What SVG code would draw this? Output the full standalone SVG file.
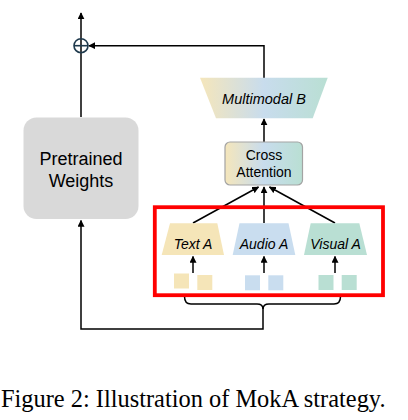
<svg xmlns="http://www.w3.org/2000/svg" width="408" height="420" viewBox="0 0 408 420">
<style>
.ln{fill:none;stroke:#000;stroke-width:1.5}
.lbl{font-family:"Liberation Sans",Arial,sans-serif;fill:#000;text-anchor:middle}
.it{font-style:italic;font-size:14px}
</style>
<defs>
<marker id="ah" viewBox="0 0 10 10" refX="9" refY="5" markerWidth="7" markerHeight="7" markerUnits="userSpaceOnUse" orient="auto">
<path d="M0,0 L10,5 L0,10 z" fill="#000"/>
</marker>
<linearGradient id="mix" x1="0" y1="0" x2="1" y2="0">
<stop offset="0" stop-color="#f5e6bb"/>
<stop offset="0.5" stop-color="#c8dced"/>
<stop offset="1" stop-color="#b9dfd3"/>
</linearGradient>
</defs>
<rect width="408" height="420" fill="#fff"/>

<g id="connectors">
<path class="ln" d="M81,117 V13" marker-end="url(#ah)"/>
<path class="ln" d="M264,78 V45.7 H89" marker-end="url(#ah)"/>
<path class="ln" d="M264,142 V119" marker-end="url(#ah)"/>
<path class="ln" d="M193,223 L258.5,187" marker-end="url(#ah)"/>
<path class="ln" d="M264,223 V187" marker-end="url(#ah)"/>
<path class="ln" d="M335,223 L269.5,187" marker-end="url(#ah)"/>
<path class="ln" d="M193,273 V256.5" marker-end="url(#ah)"/>
<path class="ln" d="M264,273 V256.5" marker-end="url(#ah)"/>
<path class="ln" d="M335,273 V256.5" marker-end="url(#ah)"/>
<path class="ln" d="M263,306 V329 H81 V220.5" marker-end="url(#ah)"/>
<path class="ln" d="M184.5,296.5 Q184.5,304 191,304 H257 Q263,304 263,309 Q263,304 269,304 H334 Q340.5,304 340.5,296.5"/>
</g>

<g id="sum">
<circle cx="81" cy="45.7" r="7" fill="none" stroke="#1f3a4d" stroke-width="1.6"/>
<path d="M74,45.7 H88" stroke="#1f3a4d" stroke-width="1.6"/>
</g>

<g id="pretrained">
<rect x="23.5" y="117.5" width="115" height="101.5" rx="13" fill="#d9d9d9"/>
<text class="lbl" x="81" y="165" font-size="18">Pretrained</text>
<text class="lbl" x="81" y="186.5" font-size="18">Weights</text>
</g>

<g id="multimodal-b">
<path d="M200,77.7 H327.7 L312.7,118.3 H216 z" fill="url(#mix)"/>
<text class="lbl" x="264" y="104" font-size="14.5" font-style="italic">Multimodal B</text>
</g>

<g id="cross-attention">
<rect x="225" y="142" width="77.5" height="43" rx="5" fill="url(#mix)" stroke="#a3a3a3" stroke-width="1.2"/>
<text class="lbl" x="264" y="159.5" font-size="14">Cross</text>
<text class="lbl" x="264" y="176.5" font-size="14">Attention</text>
</g>

<g id="text-a">
<path d="M170,223.3 H217.3 L224,255 H161.7 z" fill="#f5e5b8"/>
<text class="lbl it" x="193" y="248.5">Text A</text>
</g>
<g id="audio-a">
<path d="M239.5,223.3 H288.5 L295.3,255 H232.7 z" fill="#c9ddef"/>
<text class="lbl it" x="264" y="248.5">Audio A</text>
</g>
<g id="visual-a">
<path d="M310.7,223.3 H359.3 L367,255 H304 z" fill="#b9dfd3"/>
<text class="lbl it" x="335.5" y="248.5">Visual A</text>
</g>

<g id="tokens">
<rect x="174" y="273.5" width="15" height="15" fill="#f5e5b8"/>
<rect x="197.3" y="275" width="15" height="15" fill="#f5e5b8"/>
<rect x="245" y="275.3" width="15" height="15" fill="#c9ddef"/>
<rect x="268.3" y="275.3" width="15" height="15" fill="#c9ddef"/>
<rect x="318.5" y="275" width="15" height="15" fill="#b9dfd3"/>
<rect x="341.7" y="275" width="15" height="15" fill="#b9dfd3"/>
</g>

<g id="highlight">
<rect x="154.8" y="207.2" width="228.2" height="88" fill="none" stroke="#ff0000" stroke-width="3.8"/>
</g>

<text x="1" y="406.5" font-family="'Liberation Serif','Times New Roman',serif" font-size="24.4" fill="#000">Figure 2: Illustration of MokA strategy.</text>
</svg>
